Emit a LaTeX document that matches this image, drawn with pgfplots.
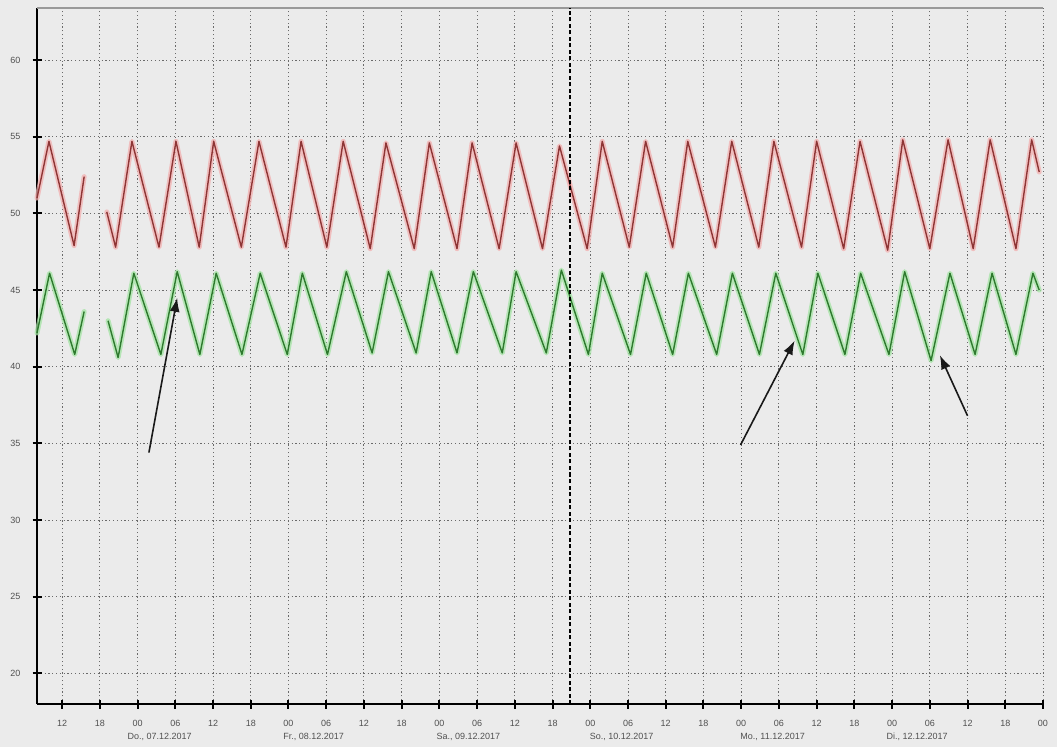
\documentclass[border=0pt]{standalone}
\usepackage{fontspec}
\setmainfont{Liberation Sans}
\usepackage{pgfplots}
\usepackage{pgfplotstable}
\pgfplotsset{compat=1.18}
\usetikzlibrary{arrows.meta}
\definecolor{bg}{HTML}{EBEBEB}
\definecolor{redcore}{HTML}{8E3535}
\definecolor{redhalo}{HTML}{F2AFAF}
\definecolor{greencore}{HTML}{2E7A2E}
\definecolor{greenhalo}{HTML}{A3E3A3}
\definecolor{gridc}{HTML}{6A6A6A}
\definecolor{txt}{HTML}{505050}

\pgfplotstableread{
h v
-16 51.0
-14.1 54.7
-10.1 47.9
-8.5 52.4
-6.7 nan
-4.9 50.1
-3.5 47.8
-0.9 54.7
3.4 47.8
6.1 54.7
9.8 47.8
12.1 54.7
16.5 47.8
19.3 54.7
23.6 47.8
26.0 54.7
30.1 47.8
32.7 54.7
37.0 47.7
39.5 54.6
44.0 47.7
46.4 54.6
50.8 47.7
53.2 54.6
57.5 47.7
60.2 54.6
64.4 47.7
67.1 54.4
71.5 47.7
73.9 54.7
78.2 47.8
80.8 54.7
85.1 47.8
87.5 54.7
91.9 47.8
94.5 54.7
98.8 47.8
101.2 54.7
105.6 47.8
108.0 54.7
112.3 47.7
114.9 54.7
119.3 47.6
121.7 54.8
126.0 47.7
128.9 54.8
132.9 47.7
135.6 54.8
139.7 47.7
142.2 54.8
143.4 52.7
}\redtab

\pgfplotstableread{
h v
-16 42.2
-14.0 46.1
-10.0 40.8
-8.5 43.6
-6.6 nan
-4.7 43.0
-3.1 40.6
-0.6 46.1
3.7 40.8
6.3 46.2
9.9 40.8
12.5 46.1
16.6 40.8
19.5 46.1
23.8 40.8
26.2 46.1
30.2 40.8
33.2 46.2
37.3 40.9
39.9 46.2
44.3 40.9
46.7 46.2
50.8 40.9
53.4 46.2
58.0 40.9
60.2 46.2
65.0 40.9
67.4 46.3
71.7 40.8
73.9 46.1
78.4 40.8
80.9 46.1
85.1 40.8
87.6 46.1
92.1 40.8
94.6 46.1
98.9 40.8
101.5 46.1
105.8 40.8
108.2 46.1
112.5 40.8
115.0 46.1
119.5 40.8
122.0 46.2
126.2 40.4
129.2 46.1
133.2 40.8
135.9 46.1
139.7 40.8
142.4 46.1
143.4 45.0
}\greentab

\begin{document}
\begin{tikzpicture}[x=1pt,y=1pt]
\fill[bg] (-37,-43) rectangle (1020,704);
\useasboundingbox (-37,-43) rectangle (1020,704);
\begin{axis}[
  at={(0,0)}, anchor=south west,
  scale only axis, width=1006pt, height=696pt,
  xmin=-16, xmax=144, ymin=18, ymax=63.4,
  clip=false,
  unbounded coords=jump,
  axis x line=bottom, axis y line=left,
  axis line style={line width=2pt, -},
  every outer x axis line/.append style={-},
  every outer y axis line/.append style={-},
  xtick={-12,-6,...,144},
  xticklabels={12,18,00,06,12,18,00,06,12,18,00,06,12,18,00,06,12,18,00,06,12,18,00,06,12,18,00},
  ytick={20,25,...,60},
  /pgf/number format/assume math mode=true,
  tick align=center,
  major tick length=9pt,
  every tick/.style={black, line width=2pt},
  tick label style={text=txt, font=\fontsize{9}{10}\selectfont},
  xticklabel style={anchor=center, yshift=-14.5pt},
  yticklabel style={anchor=center, xshift=-17pt},
  grid=major,
  major grid style={color=gridc, line width=0.9pt, dash pattern=on 1.2pt off 2.6pt},
]
\addplot[redhalo, line width=5pt, opacity=0.75, line join=round, line cap=round] table[x=h, y=v] {\redtab};
\addplot[greenhalo, line width=5pt, opacity=0.75, line join=round, line cap=round] table[x=h, y=v] {\greentab};
\addplot[redcore, line width=1.4pt, line join=round] table[x=h, y=v] {\redtab};
\addplot[greencore, line width=1.4pt, line join=round] table[x=h, y=v] {\greentab};

\draw[black!40, line width=1.5pt] (axis cs:-16,63.4) -- (axis cs:144,63.4);
\draw[black, line width=1.5pt, dash pattern=on 4pt off 2.5pt] (axis cs:68.8,18) -- (axis cs:68.8,63.4);

\draw[black!90, line width=1.6pt, -{Latex[length=14pt,width=10pt]}] (axis cs:1.8,34.4) -- (axis cs:6.3,44.5);
\draw[black!90, line width=1.6pt, -{Latex[length=14pt,width=10pt]}] (axis cs:95.9,34.9) -- (axis cs:104.5,41.7);
\draw[black!90, line width=1.6pt, -{Latex[length=14pt,width=10pt]}] (axis cs:132.0,36.8) -- (axis cs:127.6,40.75);

\node[text=txt, font=\fontsize{9}{10}\selectfont] at (axis cs:3.5,18) [yshift=-33pt] {Do., 07.12.2017};
\node[text=txt, font=\fontsize{9}{10}\selectfont] at (axis cs:28.0,18) [yshift=-33pt] {Fr., 08.12.2017};
\node[text=txt, font=\fontsize{9}{10}\selectfont] at (axis cs:52.6,18) [yshift=-33pt] {Sa., 09.12.2017};
\node[text=txt, font=\fontsize{9}{10}\selectfont] at (axis cs:77.0,18) [yshift=-33pt] {So., 10.12.2017};
\node[text=txt, font=\fontsize{9}{10}\selectfont] at (axis cs:101.0,18) [yshift=-33pt] {Mo., 11.12.2017};
\node[text=txt, font=\fontsize{9}{10}\selectfont] at (axis cs:124.0,18) [yshift=-33pt] {Di., 12.12.2017};
\end{axis}
\end{tikzpicture}
\end{document}
